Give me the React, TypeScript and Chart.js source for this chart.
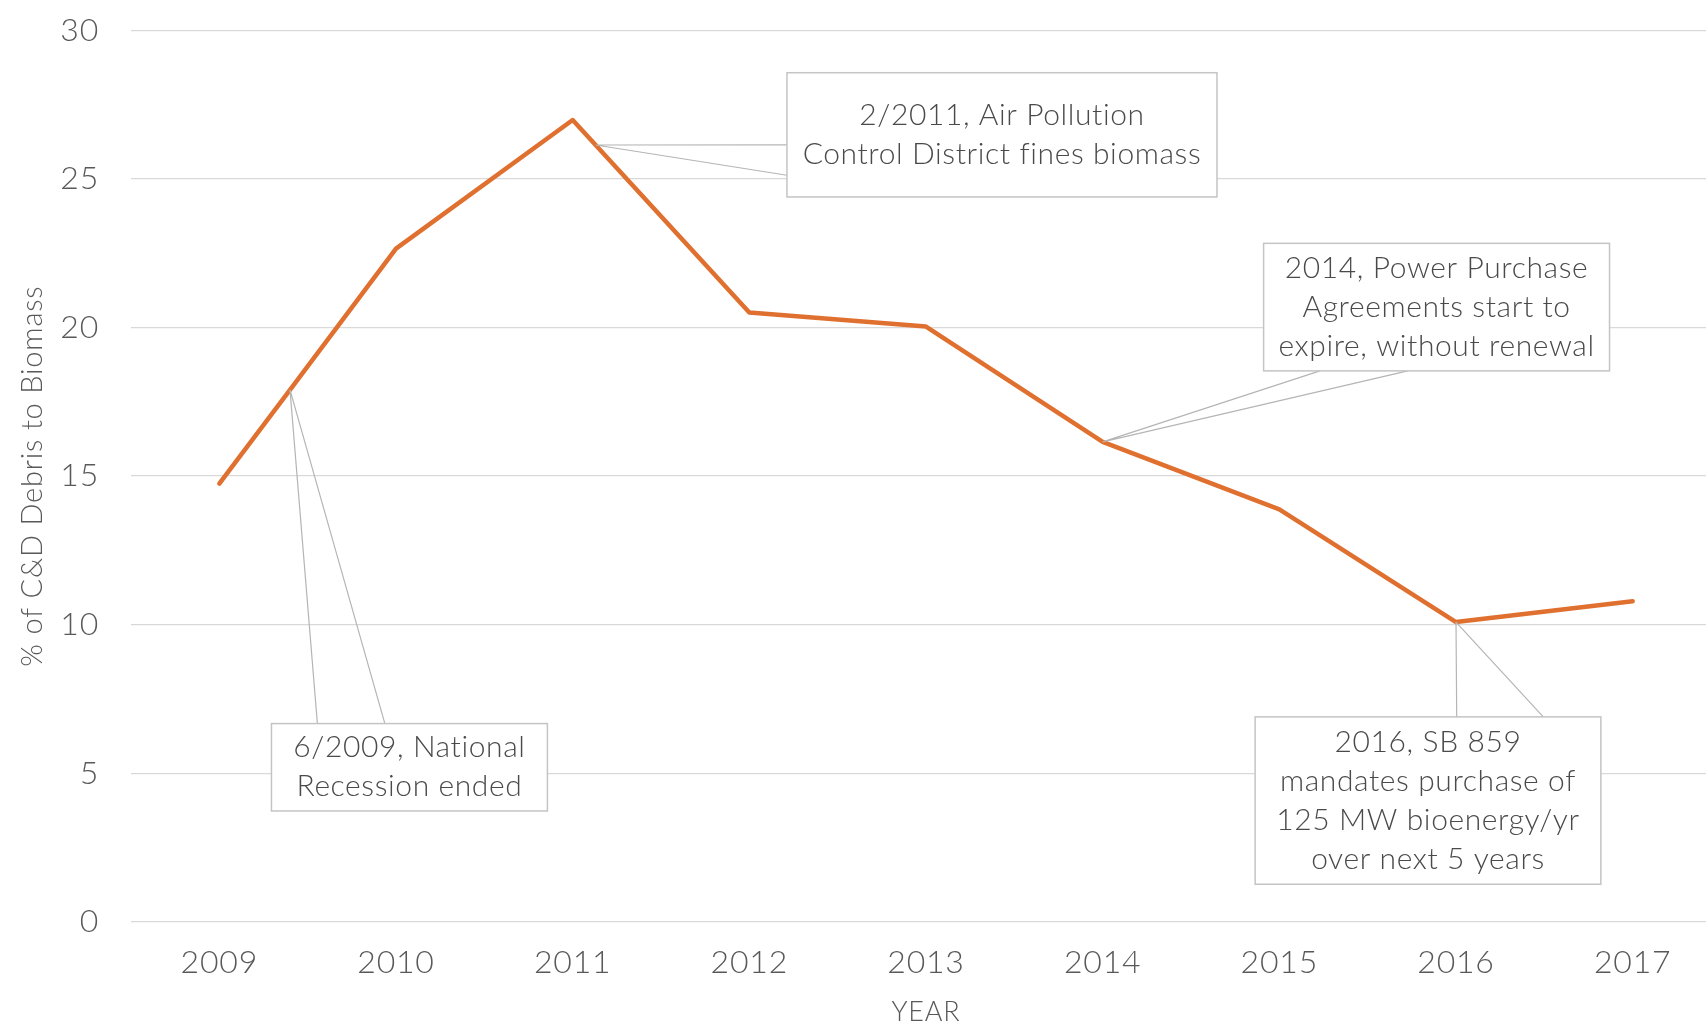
import React, { useEffect, useRef } from "react";
import { Chart, registerables } from "chart.js";

Chart.register(...registerables);

// ---- data ----
const yearTicks = [2009, 2010, 2011, 2012, 2013, 2014, 2015, 2016, 2017];
const pointX = [2009, 2009.4, 2010, 2011, 2012, 2013, 2014, 2015, 2016, 2017];
const pointY = [14.75, 17.9, 22.65, 26.98, 20.5, 20.03, 16.15, 13.88, 10.09, 10.79];
const yTickValues = [0, 5, 10, 15, 20, 25, 30];
const xTitle = "YEAR";
const yTitle = "% of C&D Debris to Biomass";

const noteTexts = [
  ["6/2009, National", "Recession ended"],
  ["2/2011, Air Pollution", "Control District fines biomass"],
  ["2014, Power Purchase", "Agreements start to", "expire, without renewal"],
  ["2016, SB 859", "mandates purchase of", "125 MW bioenergy/yr", "over next 5 years"],
];
const noteAnchorX = [2009.4, 2011.13, 2014, 2016];

// ---- annotation layout (axis units) ----
const noteBoxes = [
  { x0: 2009.295, x1: 2010.857, y0: 3.735, y1: 6.675, legs: [[2009.555, 6.675], [2009.937, 6.675]] },
  { x0: 2012.213, x1: 2014.647, y0: 24.39, y1: 28.57, legs: [[2012.213, 26.14], [2012.213, 25.12]] },
  { x0: 2014.911, x1: 2016.869, y0: 18.54, y1: 22.83, legs: [[2015.23, 18.54], [2015.727, 18.54]] },
  { x0: 2014.863, x1: 2016.82, y0: 1.27, y1: 6.9, legs: [[2016.004, 6.9], [2016.494, 6.9]] },
];

const FONT = "Lato";
const TEXT_COLOR = "#595959";

function interpY(x: number): number {
  for (let i = 0; i < pointX.length - 1; i++) {
    if (x >= pointX[i] && x <= pointX[i + 1]) {
      const t = (x - pointX[i]) / (pointX[i + 1] - pointX[i]);
      return pointY[i] + t * (pointY[i + 1] - pointY[i]);
    }
  }
  return pointY[pointY.length - 1];
}

const spacingPlugin = {
  id: "spacing",
  beforeDraw(chart: any) {
    (chart.ctx as any).letterSpacing = "0.8px";
  },
};

const notesPlugin = {
  id: "notes",
  afterDatasetsDraw(chart: any) {
    const ctx = chart.ctx as CanvasRenderingContext2D;
    const xs = chart.scales.x;
    const ys = chart.scales.y;
    ctx.save();
    (ctx as any).letterSpacing = "0.6px";
    noteBoxes.forEach((n, i) => {
      const ax = noteAnchorX[i];
      const px = xs.getPixelForValue(ax);
      const py = ys.getPixelForValue(interpY(ax));
      const l = xs.getPixelForValue(n.x0);
      const r = xs.getPixelForValue(n.x1);
      const t = ys.getPixelForValue(n.y1);
      const b = ys.getPixelForValue(n.y0);
      ctx.strokeStyle = "#b5b5b5";
      ctx.lineWidth = 1.2;
      ctx.beginPath();
      n.legs.forEach(([lx, ly]) => {
        ctx.moveTo(px, py);
        ctx.lineTo(xs.getPixelForValue(lx), ys.getPixelForValue(ly));
      });
      ctx.stroke();
      ctx.fillStyle = "#ffffff";
      ctx.fillRect(l, t, r - l, b - t);
      ctx.strokeStyle = "#c4c4c4";
      ctx.lineWidth = 1.5;
      ctx.strokeRect(l, t, r - l, b - t);
      ctx.fillStyle = "#4a4a4a";
      ctx.font = `300 30px ${FONT}`;
      ctx.textAlign = "center";
      ctx.textBaseline = "middle";
      const lines = noteTexts[i];
      const cx = (l + r) / 2;
      const cy = (t + b) / 2;
      lines.forEach((s, k) => {
        ctx.fillText(s, cx, cy + (k - (lines.length - 1) / 2) * 39);
      });
    });
    ctx.restore();
  },
};

export default function App() {
  const ref = useRef<HTMLCanvasElement | null>(null);
  useEffect(() => {
    if (!ref.current) return;
    const chart = new Chart(ref.current, {
      type: "line",
      data: {
        datasets: [
          {
            data: pointX.map((x, i) => ({ x, y: pointY[i] })),
            borderColor: "#E0702F",
            borderWidth: 4.5,
            pointRadius: 0,
            tension: 0,
            borderJoinStyle: "round",
            borderCapStyle: "round",
            fill: false,
          },
        ],
      },
      options: {
        animation: false,
        responsive: true,
        maintainAspectRatio: false,
        layout: { padding: { top: 13, right: 0, bottom: 0, left: 0 } },
        plugins: { legend: { display: false }, tooltip: { enabled: false } },
        scales: {
          x: {
            type: "linear",
            min: 2008.5,
            max: 2017.5,
            afterBuildTicks: (s: any) => {
              s.ticks = yearTicks.map((v) => ({ value: v }));
            },
            afterFit: (s: any) => {
              s.height = 104;
            },
            grid: { display: false, drawTicks: false },
            border: { display: false },
            ticks: {
              callback: (v: any) => String(v),
              font: { family: FONT, size: 32, weight: "300" },
              color: TEXT_COLOR,
              padding: 21,
              maxRotation: 0,
              autoSkip: false,
            },
            title: {
              display: true,
              text: xTitle,
              font: { family: FONT, size: 27, weight: "300", lineHeight: 1.0 },
              color: TEXT_COLOR,
              padding: { top: 0, bottom: 0 },
            },
          },
          y: {
            min: 0,
            max: 30,
            afterBuildTicks: (s: any) => {
              s.ticks = yTickValues.map((v) => ({ value: v }));
            },
            afterFit: (s: any) => {
              s.width = 131;
            },
            grid: { color: "#d9d9d9", lineWidth: 1.3, drawTicks: false },
            border: { display: false },
            ticks: {
              font: { family: FONT, size: 32, weight: "300" },
              color: TEXT_COLOR,
              padding: 32,
            },
            title: {
              display: true,
              text: yTitle,
              font: { family: FONT, size: 29, weight: "300" },
              color: TEXT_COLOR,
              padding: { top: 15, bottom: 0 },
            },
          },
        },
      },
      plugins: [spacingPlugin, notesPlugin],
    } as any);
    return () => chart.destroy();
  }, []);

  return (
    <div
      style={{
        position: "absolute",
        left: 0,
        top: 0,
        width: 1706,
        height: 1026,
        overflow: "hidden",
        background: "#ffffff",
      }}
    >
      <div style={{ position: "absolute", left: 0, top: -21, width: 1721, height: 1047 }}>
        <canvas ref={ref} />
      </div>
    </div>
  );
}
